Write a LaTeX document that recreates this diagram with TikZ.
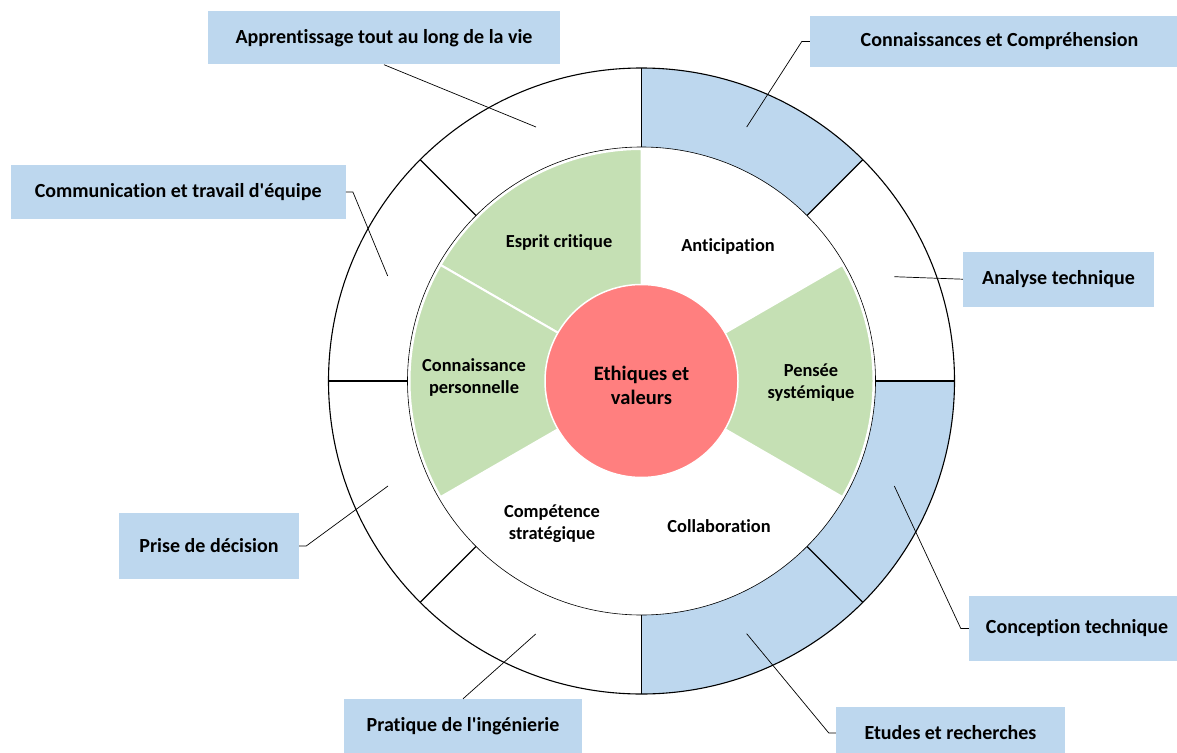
\documentclass[tikz,border=0pt]{standalone}
\usepackage{fontspec}
\setmainfont{Carlito}[Ligatures={TeXOff,CommonOff}]
\definecolor{boxblue}{HTML}{BDD7EE}
\definecolor{secgreen}{HTML}{C5E0B4}
\definecolor{corered}{HTML}{FF7F7F}
\begin{document}
\begin{tikzpicture}[x=1pt,y=-1pt,
  box/.style={fill=boxblue, draw=none, inner sep=0pt, font=\bfseries\fontsize{20}{24}\selectfont},
  lead/.style={draw=black, line width=0.7pt},
  inlab/.style={align=center, inner sep=0pt, font=\bfseries\fontsize{18.4}{22}\selectfont},
  ringline/.style={draw=black, line width=1.1pt},
  greensec/.style={fill=secgreen, draw=white, line width=2pt, line join=round},
  bluesec/.style={fill=boxblue}]
\useasboundingbox (0,0) rectangle (1177,752);
\fill[white] (0,0) rectangle (1177,752);
% ---- circular part ----
\begin{scope}[shift={(641.5,381)}, y=1pt]
  % blue segments of the outer ring
  \foreach \a/\b in {45/90, -45/0, -90/-45}{
    \fill[bluesec] (\a:234) arc[start angle=\a, end angle=\b, radius=234]
      -- (\b:313) arc[start angle=\b, end angle=\a, radius=313] -- cycle;
  }
  % ring outlines
  \draw[ringline] (0,0) circle[radius=313];
  \draw[black, line width=0.6pt] (0,0) circle[radius=234];
  \foreach \a in {0,45,...,315}{
    \draw[ringline] (\a:234) -- (\a:313);
  }
  % green sectors
  \foreach \a/\b in {90/150, 150/210, -30/30}{
    \filldraw[greensec] (0,0) -- (\a:232) arc[start angle=\a, end angle=\b, radius=232] -- cycle;
  }
  % core
  \node[circle, fill=corered, draw=white, line width=1.5pt, minimum size=193pt, inner sep=0pt] (core) at (0,0) {};
\end{scope}
\node[inlab, font=\bfseries\fontsize{20.5}{24}\selectfont] (ethic) at (641.5,385) {Ethiques et\\valeurs};
\node[inlab] (esprit) at (559,242) {Esprit critique};
\node[inlab] (antic) at (728,246) {Anticipation};
\node[inlab] (connp) at (474,377) {Connaissance\\personnelle};
\node[inlab] (pensee) at (811,383) {Pensée\\systémique};
\node[inlab] (compet) at (552,524) {Compétence\\stratégique};
\node[inlab] (collab) at (719,526) {Collaboration};
% ---- label boxes ----
\node[box, minimum width=352pt, minimum height=53pt] (b1) at (384,38) {Apprentissage tout au long de la vie};
\node[box, minimum width=379pt, minimum height=51pt] (b2) at (999.5,41.5) {Connaissances et Compréhension};
\node[box, minimum width=335pt, minimum height=54pt] (b3) at (178.2,192) {Communication et travail d'équipe};
\node[box, minimum width=191pt, minimum height=55pt] (b4) at (1058.5,279.2) {Analyse technique};
\node[box, minimum width=180pt, minimum height=66pt] (b5) at (209,546) {Prise de décision};
\node[box, minimum width=216pt, minimum height=65pt] (b6) at (1077,628.5) {Conception technique};
\node[box, minimum width=238pt, minimum height=55pt] (b7) at (463,726.5) {Pratique de l'ingénierie};
\node[box, minimum width=229pt, minimum height=52pt] (b8) at (950.5,733) {Etudes et recherches};
% ---- leader ends ----
\coordinate (e1) at (536,127);
\coordinate (e2) at (746.7,127);
\coordinate (e3) at (387.7,276);
\coordinate (e4) at (894.3,276.7);
\coordinate (e5) at (388,486);
\coordinate (e6) at (894.3,486);
\coordinate (e7) at (535.7,634);
\coordinate (e8) at (746.7,633.7);
% ---- leaders ----
\draw[lead] (b1.south) -- (e1);
\draw[lead] (b2.west) -- ++(-8,0) -- (e2);
\draw[lead] (b3.east) -- ++(7,0) -- (e3);
\draw[lead] (b4.west) -- (e4);
\draw[lead] (b5.east) -- ++(7,0) -- (e5);
\draw[lead] (b6.west) -- ++(-8,0) -- (e6);
\draw[lead] (b7.north) -- (e7);
\draw[lead] (b8.west) -- ++(-7,0) -- (e8);
\end{tikzpicture}
\end{document}
